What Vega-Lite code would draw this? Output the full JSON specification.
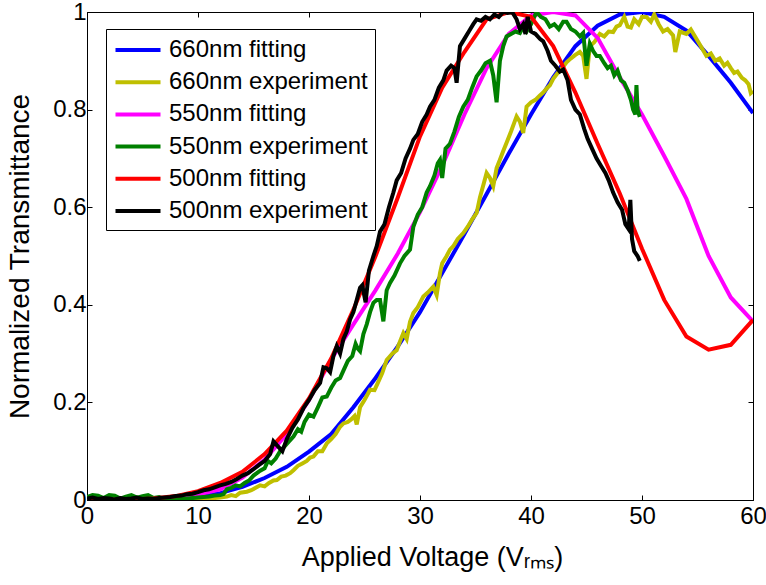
{
  "$schema": "https://vega.github.io/schema/vega-lite/v6.json",
  "autosize": "none",
  "padding": {"left": 87, "top": 12, "right": 13, "bottom": 85},
  "width": 666,
  "height": 488,
  "background": "white",
  "config": {
    "view": {"stroke": "black", "strokeWidth": 1},
    "axis": {
      "grid": false, "domainColor": "black", "tickColor": "black", "labelColor": "black", "titleColor": "black",
      "labelFont": "Liberation Sans", "titleFont": "Liberation Sans", "labelFontSize": 24, "titleFontSize": 27,
      "titleFontWeight": "normal", "tickSize": -5, "tickWidth": 1, "domainWidth": 1, "labelFlush": false, "labelOverlap": false
    },
    "legend": {
      "orient": "none", "legendX": 19, "legendY": 17, "fillColor": "white", "strokeColor": "black", "strokeWidth": 1,
      "padding": 7, "cornerRadius": 0, "symbolType": "M-1.875,0H1.875", "symbolSize": 576, "symbolStrokeWidth": 4,
      "symbolOffset": 11, "labelOffset": 17,
      "labelFont": "Liberation Sans", "labelFontSize": 24, "labelColor": "black", "rowPadding": 6.2,
      "labelLimit": 400
    }
  },
  "encoding": {
    "x": {"field": "x", "type": "quantitative", "scale": {"domain": [0, 60], "nice": false, "zero": false}, "axis": null},
    "y": {"field": "y", "type": "quantitative", "scale": {"domain": [0, 1], "nice": false}, "axis": null}
  },
  "resolve": {"axis": {"x": "independent", "y": "independent"}},
  "layer": [
    {
      "data": {"values": [{"x":0,"y":0},{"x":2,"y":0},{"x":4,"y":0},{"x":6,"y":0.001},{"x":8,"y":0.002},{"x":10,"y":0.006},{"x":12,"y":0.014},{"x":14,"y":0.027},{"x":16,"y":0.045},{"x":18,"y":0.068},{"x":20,"y":0.099},{"x":22,"y":0.135},{"x":24,"y":0.19},{"x":26,"y":0.25},{"x":28,"y":0.315},{"x":30,"y":0.385},{"x":32,"y":0.465},{"x":34,"y":0.545},{"x":36,"y":0.627},{"x":38,"y":0.71},{"x":40,"y":0.79},{"x":42,"y":0.866},{"x":44,"y":0.93},{"x":46,"y":0.972},{"x":48,"y":0.995},{"x":50,"y":1.0},{"x":52,"y":0.99},{"x":54,"y":0.962},{"x":56,"y":0.91},{"x":58,"y":0.855},{"x":60,"y":0.793}]},
      "mark": {"type": "line", "strokeWidth": 4, "clip": true},
      "encoding": {
        "x": {"field": "x", "type": "quantitative", "scale": {"domain": [0, 60], "nice": false, "zero": false},
              "axis": {"orient": "bottom", "values": [0,10,20,30,40,50,60], "labelPadding": 9, "title": "Applied Voltage (Vᵣₘₛ)", "titlePadding": 16, "titleX": 345}},
        "y": {"field": "y", "type": "quantitative", "scale": {"domain": [0, 1], "nice": false},
              "axis": {"orient": "left", "values": [0,0.2,0.4,0.6,0.8,1], "format": "~g", "labelPadding": 6, "title": "Normalized Transmittance", "titlePadding": 18, "titleFontSize": 28}},
        "color": {"datum": "660nm fitting", "type": "nominal", "title": null,
                  "scale": {"domain": ["660nm fitting","660nm experiment","550nm fitting","550nm experiment","500nm fitting","500nm experiment"], "range": ["#0000ff","#bfbf00","#ff00ff","#008000","#ff0000","#000000"]}}
      }
    },
    {
      "data": {"values": [{"x":0,"y":0.001},{"x":1,"y":0},{"x":2,"y":0.002},{"x":3,"y":0.001},{"x":4,"y":0},{"x":5,"y":0.002},{"x":6,"y":0.001},{"x":7,"y":0},{"x":8,"y":0.001},{"x":9,"y":0.002},{"x":10,"y":0.002},{"x":10.5,"y":0.003},{"x":11,"y":0.003},{"x":11.5,"y":0.004},{"x":12,"y":0.005},{"x":12.6,"y":0.007},{"x":13,"y":0.01},{"x":13.4,"y":0.008},{"x":13.8,"y":0.015},{"x":14.4,"y":0.017},{"x":14.8,"y":0.02},{"x":15.2,"y":0.025},{"x":15.6,"y":0.03},{"x":16,"y":0.028},{"x":16.4,"y":0.035},{"x":16.8,"y":0.04},{"x":17.1,"y":0.041},{"x":17.5,"y":0.048},{"x":17.9,"y":0.05},{"x":18.3,"y":0.055},{"x":18.6,"y":0.061},{"x":19,"y":0.07},{"x":19.4,"y":0.075},{"x":19.8,"y":0.08},{"x":20.1,"y":0.087},{"x":20.4,"y":0.089},{"x":20.8,"y":0.1},{"x":21.2,"y":0.1},{"x":21.6,"y":0.116},{"x":22,"y":0.125},{"x":22.4,"y":0.135},{"x":22.8,"y":0.15},{"x":23.1,"y":0.157},{"x":23.5,"y":0.16},{"x":23.8,"y":0.165},{"x":24.1,"y":0.172},{"x":24.3,"y":0.155},{"x":24.6,"y":0.19},{"x":25,"y":0.205},{"x":25.5,"y":0.226},{"x":25.9,"y":0.225},{"x":26.2,"y":0.24},{"x":26.6,"y":0.26},{"x":27,"y":0.287},{"x":27.5,"y":0.3},{"x":27.9,"y":0.307},{"x":28.2,"y":0.325},{"x":28.5,"y":0.342},{"x":28.8,"y":0.33},{"x":29.1,"y":0.365},{"x":29.4,"y":0.383},{"x":29.8,"y":0.395},{"x":30.3,"y":0.417},{"x":30.7,"y":0.425},{"x":31.2,"y":0.437},{"x":31.5,"y":0.42},{"x":31.8,"y":0.465},{"x":32,"y":0.485},{"x":32.4,"y":0.5},{"x":32.7,"y":0.513},{"x":33,"y":0.52},{"x":33.4,"y":0.535},{"x":33.9,"y":0.547},{"x":34.3,"y":0.56},{"x":34.7,"y":0.575},{"x":35.1,"y":0.588},{"x":35.4,"y":0.62},{"x":35.7,"y":0.645},{"x":36,"y":0.67},{"x":36.3,"y":0.66},{"x":36.6,"y":0.643},{"x":36.9,"y":0.68},{"x":37.2,"y":0.697},{"x":37.5,"y":0.715},{"x":37.8,"y":0.732},{"x":38.2,"y":0.755},{"x":38.7,"y":0.786},{"x":39,"y":0.775},{"x":39.3,"y":0.752},{"x":39.6,"y":0.806},{"x":40,"y":0.815},{"x":40.4,"y":0.82},{"x":40.8,"y":0.829},{"x":41.1,"y":0.835},{"x":41.4,"y":0.843},{"x":41.7,"y":0.85},{"x":42,"y":0.863},{"x":42.4,"y":0.875},{"x":42.8,"y":0.885},{"x":43.2,"y":0.897},{"x":43.6,"y":0.905},{"x":44,"y":0.912},{"x":44.4,"y":0.918},{"x":44.7,"y":0.91},{"x":45,"y":0.863},{"x":45.3,"y":0.93},{"x":45.7,"y":0.938},{"x":46.2,"y":0.955},{"x":46.6,"y":0.95},{"x":47,"y":0.96},{"x":47.4,"y":0.959},{"x":47.7,"y":0.97},{"x":48,"y":0.973},{"x":48.4,"y":0.99},{"x":48.7,"y":0.97},{"x":49,"y":0.968},{"x":49.3,"y":0.985},{"x":49.7,"y":0.975},{"x":50,"y":0.99},{"x":50.4,"y":0.99},{"x":50.8,"y":0.98},{"x":51.1,"y":0.995},{"x":51.5,"y":0.975},{"x":51.9,"y":0.96},{"x":52.3,"y":0.965},{"x":52.8,"y":0.952},{"x":53,"y":0.918},{"x":53.4,"y":0.96},{"x":54,"y":0.955},{"x":54.4,"y":0.964},{"x":54.9,"y":0.945},{"x":55.3,"y":0.93},{"x":55.8,"y":0.91},{"x":56.2,"y":0.915},{"x":56.6,"y":0.9},{"x":57,"y":0.905},{"x":57.4,"y":0.89},{"x":57.7,"y":0.896},{"x":58,"y":0.885},{"x":58.3,"y":0.875},{"x":58.6,"y":0.878},{"x":59,"y":0.865},{"x":59.3,"y":0.86},{"x":59.6,"y":0.852},{"x":59.8,"y":0.834},{"x":60,"y":0.838}]},
      "mark": {"type": "line", "strokeWidth": 4, "clip": true},
      "encoding": {
        "x": {"field": "x", "type": "quantitative", "scale": {"domain": [0, 60], "nice": false, "zero": false},
              "axis": {"orient": "top", "values": [0,10,20,30,40,50,60], "labels": false, "title": null, "domain": false}},
        "y": {"field": "y", "type": "quantitative", "scale": {"domain": [0, 1], "nice": false},
              "axis": {"orient": "right", "values": [0,0.2,0.4,0.6,0.8,1], "labels": false, "title": null, "domain": false}},
        "color": {"datum": "660nm experiment", "type": "nominal", "title": null,
                  "scale": {"domain": ["660nm fitting","660nm experiment","550nm fitting","550nm experiment","500nm fitting","500nm experiment"], "range": ["#0000ff","#bfbf00","#ff00ff","#008000","#ff0000","#000000"]}}
      }
    },
    {
      "data": {"values": [{"x":0,"y":0},{"x":2,"y":0},{"x":4,"y":0},{"x":6,"y":0.001},{"x":8,"y":0.004},{"x":10,"y":0.011},{"x":12,"y":0.022},{"x":14,"y":0.046},{"x":16,"y":0.083},{"x":18,"y":0.135},{"x":20,"y":0.205},{"x":22,"y":0.288},{"x":24,"y":0.36},{"x":26,"y":0.43},{"x":28,"y":0.505},{"x":30,"y":0.59},{"x":32,"y":0.685},{"x":34,"y":0.79},{"x":36,"y":0.885},{"x":38,"y":0.955},{"x":40,"y":0.993},{"x":42,"y":1.0},{"x":44,"y":0.993},{"x":46,"y":0.947},{"x":48,"y":0.866},{"x":50,"y":0.79},{"x":52,"y":0.705},{"x":54,"y":0.617},{"x":56,"y":0.5},{"x":58,"y":0.415},{"x":60,"y":0.366}]},
      "mark": {"type": "line", "strokeWidth": 4, "clip": true},
      "encoding": {
        "color": {"datum": "550nm fitting", "type": "nominal", "title": null,
                  "scale": {"domain": ["660nm fitting","660nm experiment","550nm fitting","550nm experiment","500nm fitting","500nm experiment"], "range": ["#0000ff","#bfbf00","#ff00ff","#008000","#ff0000","#000000"]}}
      }
    },
    {
      "data": {"values": [{"x":0,"y":0.006},{"x":0.5,"y":0.01},{"x":1,"y":0.009},{"x":1.5,"y":0.004},{"x":2,"y":0.01},{"x":2.5,"y":0.009},{"x":3,"y":0.003},{"x":3.5,"y":0.007},{"x":4,"y":0.01},{"x":4.5,"y":0.005},{"x":5,"y":0.008},{"x":5.5,"y":0.01},{"x":6,"y":0.004},{"x":6.5,"y":0.006},{"x":7,"y":0.002},{"x":7.5,"y":0.003},{"x":8,"y":0.002},{"x":8.5,"y":0.004},{"x":9,"y":0.003},{"x":9.5,"y":0.004},{"x":10,"y":0.005},{"x":10.5,"y":0.006},{"x":11,"y":0.007},{"x":11.5,"y":0.009},{"x":12,"y":0.01},{"x":12.3,"y":0.012},{"x":12.6,"y":0.022},{"x":13,"y":0.025},{"x":13.4,"y":0.03},{"x":13.8,"y":0.028},{"x":14.2,"y":0.035},{"x":14.6,"y":0.04},{"x":15,"y":0.05},{"x":15.3,"y":0.055},{"x":15.6,"y":0.06},{"x":16,"y":0.065},{"x":16.3,"y":0.08},{"x":16.6,"y":0.075},{"x":17,"y":0.085},{"x":17.4,"y":0.1},{"x":17.8,"y":0.11},{"x":18.2,"y":0.12},{"x":18.6,"y":0.13},{"x":19,"y":0.145},{"x":19.3,"y":0.14},{"x":19.6,"y":0.16},{"x":20,"y":0.175},{"x":20.4,"y":0.171},{"x":20.8,"y":0.19},{"x":21.2,"y":0.21},{"x":21.6,"y":0.212},{"x":22,"y":0.23},{"x":22.4,"y":0.245},{"x":22.8,"y":0.25},{"x":23.1,"y":0.265},{"x":23.5,"y":0.285},{"x":23.9,"y":0.295},{"x":24.2,"y":0.32},{"x":24.4,"y":0.31},{"x":24.6,"y":0.305},{"x":24.9,"y":0.34},{"x":25.2,"y":0.36},{"x":25.5,"y":0.385},{"x":25.8,"y":0.404},{"x":26.1,"y":0.41},{"x":26.4,"y":0.41},{"x":26.7,"y":0.366},{"x":27,"y":0.43},{"x":27.3,"y":0.445},{"x":27.7,"y":0.46},{"x":28.2,"y":0.485},{"x":28.6,"y":0.5},{"x":29.1,"y":0.513},{"x":29.4,"y":0.56},{"x":29.8,"y":0.585},{"x":30.2,"y":0.6},{"x":30.6,"y":0.63},{"x":30.9,"y":0.643},{"x":31.3,"y":0.665},{"x":31.6,"y":0.69},{"x":31.8,"y":0.697},{"x":32,"y":0.66},{"x":32.3,"y":0.72},{"x":32.7,"y":0.73},{"x":33.1,"y":0.755},{"x":33.5,"y":0.785},{"x":33.9,"y":0.806},{"x":34.3,"y":0.82},{"x":34.7,"y":0.845},{"x":35.1,"y":0.868},{"x":35.5,"y":0.88},{"x":35.9,"y":0.895},{"x":36.3,"y":0.9},{"x":36.6,"y":0.87},{"x":36.9,"y":0.815},{"x":37.2,"y":0.9},{"x":37.5,"y":0.93},{"x":37.8,"y":0.95},{"x":38.2,"y":0.955},{"x":38.6,"y":0.96},{"x":39,"y":0.957},{"x":39.3,"y":0.97},{"x":39.6,"y":0.96},{"x":40,"y":0.975},{"x":40.3,"y":0.99},{"x":40.5,"y":1.0},{"x":40.9,"y":0.99},{"x":41.3,"y":0.985},{"x":41.7,"y":0.97},{"x":42.1,"y":0.975},{"x":42.5,"y":0.965},{"x":42.9,"y":0.98},{"x":43.2,"y":0.98},{"x":43.6,"y":0.965},{"x":44,"y":0.96},{"x":44.4,"y":0.95},{"x":44.7,"y":0.957},{"x":45,"y":0.89},{"x":45.3,"y":0.935},{"x":45.6,"y":0.92},{"x":45.9,"y":0.91},{"x":46.2,"y":0.91},{"x":46.6,"y":0.895},{"x":46.9,"y":0.885},{"x":47.2,"y":0.89},{"x":47.5,"y":0.87},{"x":47.8,"y":0.88},{"x":48.1,"y":0.86},{"x":48.4,"y":0.855},{"x":48.7,"y":0.84},{"x":49,"y":0.82},{"x":49.2,"y":0.8},{"x":49.4,"y":0.79},{"x":49.5,"y":0.85},{"x":49.6,"y":0.8},{"x":49.8,"y":0.785}]},
      "mark": {"type": "line", "strokeWidth": 4, "clip": true},
      "encoding": {
        "color": {"datum": "550nm experiment", "type": "nominal", "title": null,
                  "scale": {"domain": ["660nm fitting","660nm experiment","550nm fitting","550nm experiment","500nm fitting","500nm experiment"], "range": ["#0000ff","#bfbf00","#ff00ff","#008000","#ff0000","#000000"]}}
      }
    },
    {
      "data": {"values": [{"x":0,"y":0},{"x":2,"y":0},{"x":4,"y":0.001},{"x":6,"y":0.003},{"x":8,"y":0.008},{"x":10,"y":0.018},{"x":12,"y":0.035},{"x":14,"y":0.058},{"x":16,"y":0.094},{"x":18,"y":0.142},{"x":20,"y":0.208},{"x":22,"y":0.29},{"x":24,"y":0.39},{"x":26,"y":0.5},{"x":28,"y":0.62},{"x":30,"y":0.745},{"x":32,"y":0.845},{"x":34,"y":0.918},{"x":36,"y":0.985},{"x":38,"y":1.0},{"x":40,"y":0.99},{"x":42,"y":0.93},{"x":44,"y":0.835},{"x":46,"y":0.73},{"x":48,"y":0.628},{"x":50,"y":0.515},{"x":52,"y":0.41},{"x":54,"y":0.335},{"x":56,"y":0.308},{"x":58,"y":0.318},{"x":60,"y":0.369}]},
      "mark": {"type": "line", "strokeWidth": 4, "clip": true},
      "encoding": {
        "color": {"datum": "500nm fitting", "type": "nominal", "title": null,
                  "scale": {"domain": ["660nm fitting","660nm experiment","550nm fitting","550nm experiment","500nm fitting","500nm experiment"], "range": ["#0000ff","#bfbf00","#ff00ff","#008000","#ff0000","#000000"]}}
      }
    },
    {
      "data": {"values": [{"x":0,"y":0.003},{"x":0.5,"y":0.005},{"x":1,"y":0.002},{"x":1.5,"y":0.004},{"x":2,"y":0.003},{"x":2.5,"y":0.001},{"x":3,"y":0.004},{"x":3.5,"y":0.002},{"x":4,"y":0.003},{"x":4.5,"y":0.005},{"x":5,"y":0.002},{"x":5.5,"y":0.003},{"x":6,"y":0.002},{"x":6.5,"y":0.004},{"x":7,"y":0.005},{"x":7.5,"y":0.006},{"x":8,"y":0.008},{"x":8.5,"y":0.009},{"x":9,"y":0.012},{"x":9.5,"y":0.013},{"x":10,"y":0.016},{"x":10.5,"y":0.02},{"x":11,"y":0.022},{"x":11.5,"y":0.026},{"x":12,"y":0.03},{"x":12.5,"y":0.033},{"x":13,"y":0.037},{"x":13.5,"y":0.043},{"x":14,"y":0.05},{"x":14.5,"y":0.055},{"x":15,"y":0.063},{"x":15.5,"y":0.072},{"x":16,"y":0.08},{"x":16.5,"y":0.094},{"x":16.8,"y":0.12},{"x":17.2,"y":0.11},{"x":17.6,"y":0.1},{"x":18,"y":0.125},{"x":18.5,"y":0.148},{"x":19,"y":0.165},{"x":19.5,"y":0.188},{"x":20,"y":0.205},{"x":20.5,"y":0.225},{"x":21,"y":0.24},{"x":21.3,"y":0.272},{"x":21.6,"y":0.27},{"x":21.9,"y":0.262},{"x":22.2,"y":0.295},{"x":22.5,"y":0.315},{"x":22.8,"y":0.3},{"x":23.1,"y":0.33},{"x":23.4,"y":0.345},{"x":23.7,"y":0.37},{"x":24,"y":0.385},{"x":24.3,"y":0.41},{"x":24.6,"y":0.435},{"x":24.8,"y":0.44},{"x":25.1,"y":0.405},{"x":25.4,"y":0.47},{"x":25.8,"y":0.5},{"x":26.1,"y":0.52},{"x":26.4,"y":0.55},{"x":26.8,"y":0.565},{"x":27.2,"y":0.6},{"x":27.6,"y":0.63},{"x":27.9,"y":0.655},{"x":28.3,"y":0.67},{"x":28.7,"y":0.7},{"x":29.1,"y":0.72},{"x":29.4,"y":0.738},{"x":29.8,"y":0.75},{"x":30.2,"y":0.775},{"x":30.6,"y":0.79},{"x":30.9,"y":0.806},{"x":31.3,"y":0.82},{"x":31.7,"y":0.845},{"x":32.1,"y":0.86},{"x":32.4,"y":0.88},{"x":32.8,"y":0.89},{"x":33.1,"y":0.885},{"x":33.3,"y":0.855},{"x":33.6,"y":0.93},{"x":34,"y":0.945},{"x":34.4,"y":0.96},{"x":34.8,"y":0.975},{"x":35.1,"y":0.985},{"x":35.5,"y":0.982},{"x":35.9,"y":0.99},{"x":36.3,"y":0.985},{"x":36.7,"y":0.995},{"x":37.1,"y":0.99},{"x":37.5,"y":1.0},{"x":37.9,"y":0.998},{"x":38.3,"y":1.0},{"x":38.7,"y":0.985},{"x":39,"y":0.965},{"x":39.3,"y":0.975},{"x":39.5,"y":0.955},{"x":39.7,"y":0.99},{"x":40,"y":0.96},{"x":40.4,"y":0.955},{"x":40.8,"y":0.945},{"x":41.1,"y":0.94},{"x":41.5,"y":0.92},{"x":41.8,"y":0.9},{"x":42.2,"y":0.89},{"x":42.6,"y":0.878},{"x":42.9,"y":0.882},{"x":43.3,"y":0.86},{"x":43.6,"y":0.82},{"x":44,"y":0.8},{"x":44.4,"y":0.79},{"x":44.8,"y":0.76},{"x":45.1,"y":0.74},{"x":45.5,"y":0.72},{"x":45.9,"y":0.7},{"x":46.3,"y":0.685},{"x":46.7,"y":0.67},{"x":47,"y":0.655},{"x":47.4,"y":0.63},{"x":47.8,"y":0.61},{"x":48.2,"y":0.595},{"x":48.5,"y":0.565},{"x":48.8,"y":0.555},{"x":48.95,"y":0.615},{"x":49.1,"y":0.535},{"x":49.3,"y":0.51},{"x":49.6,"y":0.5},{"x":49.8,"y":0.49}]},
      "mark": {"type": "line", "strokeWidth": 4, "clip": true},
      "encoding": {
        "color": {"datum": "500nm experiment", "type": "nominal", "title": null,
                  "scale": {"domain": ["660nm fitting","660nm experiment","550nm fitting","550nm experiment","500nm fitting","500nm experiment"], "range": ["#0000ff","#bfbf00","#ff00ff","#008000","#ff0000","#000000"]}}
      }
    }
  ]
}
